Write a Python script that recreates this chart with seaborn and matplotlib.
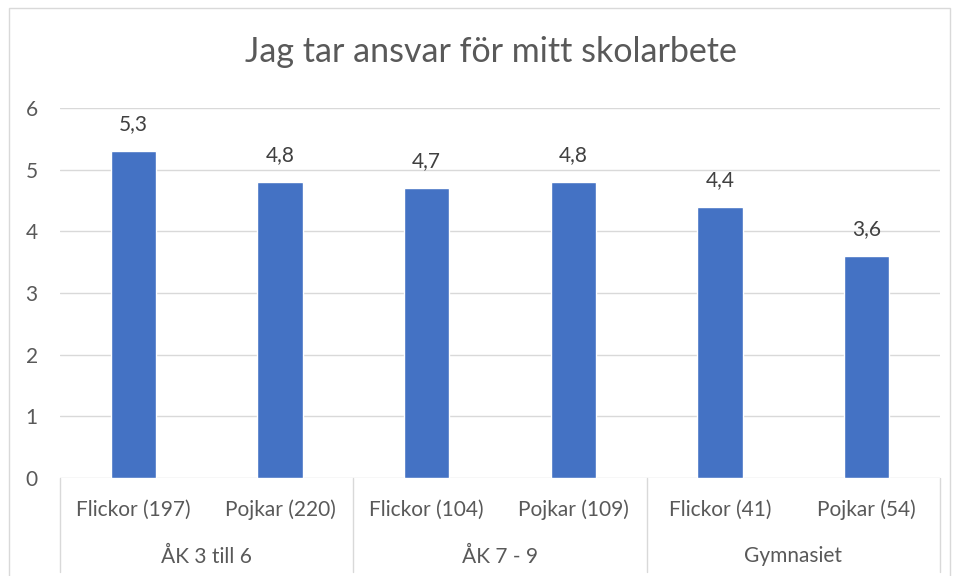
import matplotlib
matplotlib.use("Agg")
import matplotlib.pyplot as plt
import seaborn as sns
import pandas as pd
from matplotlib.patches import Rectangle
from matplotlib.lines import Line2D

title = "Jag tar ansvar för mitt skolarbete"
groups = ["ÅK 3 till 6", "ÅK 3 till 6", "ÅK 7 - 9", "ÅK 7 - 9", "Gymnasiet", "Gymnasiet"]
sub_labels = ["Flickor (197)", "Pojkar (220)", "Flickor (104)", "Pojkar (109)", "Flickor (41)", "Pojkar (54)"]
values = [5.3, 4.8, 4.7, 4.8, 4.4, 3.6]
group_names = ["ÅK 3 till 6", "ÅK 7 - 9", "Gymnasiet"]
yticks = [0, 1, 2, 3, 4, 5, 6]

sns.set_style("white")
plt.rcParams["font.family"] = ["Lato", "DejaVu Sans"]

W, H = 955, 576
fig = plt.figure(figsize=(W / 100, H / 100), dpi=100)
ax = fig.add_axes([60 / W, 1 - 478 / H, 880 / W, 370 / H])

df = pd.DataFrame({"cat": [f"{g}|{s}" for g, s in zip(groups, sub_labels)], "val": values})
sns.barplot(data=df, x="cat", y="val", color="#4472C4", width=0.31, ax=ax, saturation=1)

fs = 15
ax.set_ylim(0, 6)
ax.set_xlim(-0.5, len(values) - 0.5)
ax.set_yticks(yticks)
ax.set_yticklabels([str(t) for t in yticks], fontsize=fs, color="#595959")
ax.tick_params(axis="y", length=0, pad=16)
ax.tick_params(axis="x", length=0)
ax.set_xticks([])
ax.set_xlabel("")
ax.set_ylabel("")
for s in ax.spines.values():
    s.set_visible(False)
ax.set_axisbelow(True)
for t in yticks:
    ax.axhline(t, color="#D9D9D9", lw=1, zorder=0)

for c in ax.containers:
    ax.bar_label(c, labels=[f"{v:.1f}".replace(".", ",") for v in c.datavalues],
                 padding=12, fontsize=fs, color="#404040")

trans = ax.get_xaxis_transform()
for i, s in enumerate(sub_labels):
    ax.text(i, -0.085, s, transform=trans, ha="center", va="center", fontsize=fs, color="#595959")
for j, g in enumerate(group_names):
    ax.text(2 * j + 0.5, -0.212, g, transform=trans, ha="center", va="center", fontsize=fs, color="#595959")
for x in [-0.5, 1.5, 3.5, 5.5]:
    ax.add_line(Line2D([x, x], [0, -0.255], transform=trans, color="#D9D9D9", lw=1, clip_on=False))

fig.text(491 / W, 1 - 52 / H, title, ha="center", va="center", fontsize=24.5, color="#595959")

fig.add_artist(Rectangle((9 / W, -0.05), (950 - 9) / W, 1 - 8 / H + 0.05, transform=fig.transFigure,
                         fill=False, edgecolor="#D9D9D9", lw=1))

fig.savefig("out.png", dpi=100)
